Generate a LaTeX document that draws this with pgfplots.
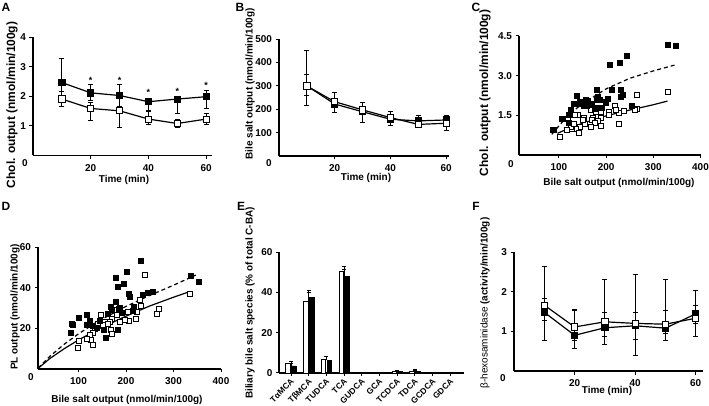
\documentclass[border=0pt]{standalone}
\usepackage{fontspec}
\setmainfont{Liberation Sans}
\usepackage{pgfplots}
\pgfplotsset{compat=1.18}
\newcommand\lab{\fontsize{10}{12}\selectfont\bfseries}
\newcommand\labS{\fontsize{8.4}{10}\selectfont\bfseries}
\newcommand\labL{\fontsize{12}{14}\selectfont\bfseries}
\pgfplotsset{
 pr/.style={
  scale only axis, anchor=south west,
  axis x line=bottom, axis y line=left,
  axis line style={-, line width=1.1bp},
  every outer x axis line/.append style={-},
  every outer y axis line/.append style={-},
  every tick/.style={black, line width=1bp},
  tick align=outside, major tick length=3.5bp,
  ticklabel style={font=\lab},
  xticklabel style={yshift=-2bp},
  /pgf/number format/assume math mode=true,
  clip=false,
 },
 blk/.style={draw=black, line width=1.2bp, mark=square*, mark size=3.1bp,
   mark options={solid, fill=black, draw=black, line width=0.8bp},
   error bars/.cd, y dir=both, y explicit,
   error bar style={line width=0.9bp, black, solid},
   error mark options={rotate=90, mark size=2.5bp, line width=0.9bp, black}},
 wht/.style={draw=black, line width=1.2bp, mark=square*, mark size=3.1bp,
   mark options={solid, fill=white, draw=black, line width=0.9bp},
   error bars/.cd, y dir=both, y explicit,
   error bar style={line width=0.9bp, black, solid},
   error mark options={rotate=90, mark size=2.5bp, line width=0.9bp, black}},
 sb/.style={only marks, mark=square*, mark size=2.5bp,
   mark options={fill=black, draw=black, line width=0.6bp}},
 sw/.style={only marks, mark=square*, mark size=2.5bp,
   mark options={fill=white, draw=black, line width=0.8bp}},
}
\begin{document}
\begin{tikzpicture}
\path[use as bounding box] (0bp,0bp) rectangle (709bp,406bp);

% ---------- A ----------
\begin{axis}[pr, at={(33bp,250.7bp)}, width=179bp, height=117.8bp,
  xmin=0, xmax=62, ymin=0, ymax=4, xtick={20,40,60}, ytick={1,2,3,4}]
\addplot[blk] coordinates {
 (10,2.47) += (0,0.82) -= (0,0.82)
 (20,2.12) += (0,0.27) -= (0,0.25)
 (30,2.03) += (0,0.38) -= (0,0.38)
 (40,1.82) += (0,0.10) -= (0,0.30)
 (50,1.91) += (0,0.08) -= (0,0.49)
 (60,1.99) += (0,0.21) -= (0,0.40)};
\addplot[wht] coordinates {
 (10,1.91) += (0,0.26) -= (0,0.26)
 (20,1.59) += (0,0.20) -= (0,0.40)
 (30,1.51) += (0,0.15) -= (0,0.56)
 (40,1.23) += (0,0.25) -= (0,0.17)
 (50,1.08) += (0,0.13) -= (0,0.13)
 (60,1.23) += (0,0.20) -= (0,0.17)};
\foreach \xx/\yy in {20/2.44,30/2.44,40/2.04,50/2.06,60/2.27}{
  \edef\tmp{\noexpand\node[anchor=base, font=\noexpand\fontsize{9}{10}\noexpand\selectfont\noexpand\bfseries, inner sep=0pt] at (axis cs:\xx,\yy) {*};}\tmp}
\end{axis}

% ---------- B ----------
\begin{axis}[pr, at={(279bp,250bp)}, width=170bp, height=117bp,
  xmin=0, xmax=61, ymin=0, ymax=500, xtick={20,40,60}, ytick={100,200,300,400,500},
  yticklabels={100,200,300,400,500}]
\addplot[blk] coordinates {
 (10,300) += (0,50) -= (0,42)
 (20,222) += (0,20) -= (0,37)
 (30,189) += (0,15) -= (0,45)
 (40,157) += (0,10) -= (0,25)
 (50,150) += (0,25) -= (0,10)
 (60,154) += (0,21) -= (0,10)};
\addplot[wht] coordinates {
 (10,299) += (0,150) -= (0,84)
 (20,232) += (0,40) -= (0,15)
 (30,197) += (0,32) -= (0,15)
 (40,164) += (0,28) -= (0,10)
 (50,135) += (0,10) -= (0,12)
 (60,140) += (0,10) -= (0,29)};
\end{axis}

% ---------- C ----------
\begin{axis}[pr, at={(519bp,251bp)}, width=181.5bp, height=119bp,
  xmin=15.5, xmax=400, ymin=0, ymax=4.5, xtick={100,200,300,400},
  xticklabels={100,200,300,400}, ytick={1.5,3,4.5}, yticklabels={1.5,3.0,4.5}]
\addplot[sw] table {
330 2.39
265 2.26
219 1.85
266 1.75
260 1.70
237 1.66
228 1.60
220 1.70
206 1.63
205 1.51
190 1.63
199 1.97
228 1.17
167 1.70
188 1.42
173 1.41
169 1.32
182 1.29
176 1.20
189 1.11
167 1.07
152 1.42
140 1.51
156 1.16
145 1.07
151 1.32
134 1.07
136 0.98
142 0.84
128 0.98
125 1.07
120 1.38
106 1.35
102 0.67
116 0.94
131 1.17
178 1.63
134 1.51
};
\addplot[sb] table {
331 4.18
347 4.12
244 3.74
228 3.48
207 3.42
231 2.48
212 2.48
180 2.45
235 2.29
231 2.20
138 2.23
182 2.20
180 2.08
186 2.10
156 2.08
162 2.04
149 1.95
131 1.95
204 2.14
200 2.01
160 1.85
152 1.85
182 1.80
190 1.80
125 1.70
120 1.51
254 1.85
121 1.23
109 1.36
90 0.97
87 0.94
144 1.92
170 1.95
176 1.76
145 2.00
};
\addplot[black, line width=1.2bp, dash pattern=on 4bp off 3bp] coordinates {
 (85,0.78) (100,1.1) (120,1.5) (140,1.8) (160,2.05) (200,2.5) (250,2.9) (300,3.18) (345,3.40)};
\addplot[black, line width=1.2bp] coordinates {
 (97,0.82) (120,1.0) (150,1.2) (200,1.48) (250,1.7) (300,1.9) (330,2.04)};
\end{axis}

% ---------- D ----------
\begin{axis}[pr, at={(38bp,37bp)}, width=183bp, height=122bp,
  xmin=14.7, xmax=400, ymin=0, ymax=60, xtick={100,200,300,400},
  xticklabels={100,200,300,400}, ytick={20,40,60}, yticklabels={20,40,60}]
\addplot[sw] table {
239 46.4
335 36.8
269 29.8
266 27.0
229 33.8
232 31.0
222 28.1
220 24.4
206 23.7
197 24.0
187 23.2
203 28.1
188 30.2
180 26.5
170 24.8
166 23.2
169 19.1
171 17.2
155 23.2
148 26.5
152 21.6
141 22.1
134 19.5
131 17.8
124 17.0
127 14.2
131 11.8
117 15.0
101 13.7
99 10.4
180 28.9
162 22.4
};
\addplot[sb] table {
232 53.1
202 47.7
178 44.9
196 42.0
182 40.3
337 45.6
353 42.8
205 37.1
208 35.4
235 36.6
246 37.4
256 37.9
178 33.0
168 30.5
171 28.9
185 29.8
192 27.6
162 27.0
118 26.5
100 25.3
124 23.5
145 23.7
85 22.4
89 21.6
117 21.6
131 21.1
138 20.4
153 19.1
183 19.1
84 17.8
157 15.5
216 30.5
214 28.6
};
\addplot[black, line width=1.2bp, dash pattern=on 4bp off 3bp] coordinates {
 (14.7,0.4) (40,6.3) (70,12.2) (100,17.3) (140,23.3) (200,30.8) (250,36.2) (300,41.2) (347,46.2)};
\addplot[black, line width=1.2bp] coordinates {
 (14.7,0.3) (40,5.2) (70,10.0) (100,14.3) (140,19.4) (200,26.0) (250,31.0) (300,35.3) (332,37.9)};
\end{axis}

% ---------- E ----------
\begin{axis}[pr, at={(279bp,33bp)}, width=185bp, height=121bp,
  xmin=-0.68, xmax=9.77, ymin=0, ymax=60, ytick={0,20,40,60}, yticklabels={0,20,40,60},
  xtick={0,...,9}, major tick length=3bp,
  xticklabels={TαMCA,TβMCA,TUDCA,TCA,GUDCA,GCA,TCDCA,TDCA,GCDCA,GDCA},
  xticklabel style={rotate=45, anchor=north east, inner sep=0.5bp, yshift=1bp, font=\labS}]
\addplot[ybar, bar width=4.6bp, bar shift=-2.9bp, fill=white, draw=black, line width=0.8bp,
  error bars/.cd, y dir=plus, y explicit, error bar style={line width=0.9bp, black},
  error mark options={rotate=90, mark size=2bp, line width=0.9bp, black}] coordinates {
 (0,4.6) +- (0,1.2) (1,35.5) +- (0,4.3) (2,6.6) +- (0,1.8) (3,50.4) +- (0,2.2)
 (4,0.2) +- (0,0.2) (5,0.15) +- (0,0.1) (6,1.0) +- (0,0.5) (7,0.9) +- (0,0.8)
 (8,0.3) +- (0,0.2) (9,0.2) +- (0,0.1)};
\addplot[ybar, bar width=4.6bp, bar shift=2.9bp, fill=black, draw=black, line width=0.8bp,
  error bars/.cd, y dir=plus, y explicit, error bar style={line width=0.9bp, black},
  error mark options={rotate=90, mark size=2bp, line width=0.9bp, black}] coordinates {
 (0,3.5) +- (0,1.1) (1,37.4) +- (0,3.4) (2,6.3) +- (0,1.8) (3,48.1) +- (0,3.1)
 (4,0.2) +- (0,0.2) (5,0.15) +- (0,0.1) (6,0.8) +- (0,0.6) (7,0.9) +- (0,0.6)
 (8,0.3) +- (0,0.1) (9,0.2) +- (0,0.1)};
\end{axis}

% ---------- F ----------
\begin{axis}[pr, at={(514bp,35bp)}, width=189bp, height=119bp,
  xmin=0, xmax=62.4, ymin=0, ymax=3, xtick={20,40,60}, ytick={1,2,3}]
\addplot[blk] coordinates {
 (10,1.48) += (0,0.36) -= (0,0.71)
 (20,0.90) += (0,0.62) -= (0,0.34)
 (30,1.09) += (0,0.38) -= (0,0.42)
 (40,1.14) += (0,0.34) -= (0,0.74)
 (50,1.08) += (0,0.44) -= (0,0.30)
 (60,1.44) += (0,0.58) -= (0,0.56)};
\addplot[wht] coordinates {
 (10,1.66) += (0,0.97) -= (0,0.39)
 (20,1.11) += (0,0.45) -= (0,0.33)
 (30,1.24) += (0,1.08) -= (0,0.36)
 (40,1.20) += (0,1.24) -= (0,0.40)
 (50,1.18) += (0,1.14) -= (0,0.23)
 (60,1.33) += (0,0.32) -= (0,0.13)};
\end{axis}

% ---------- labels ----------
\begin{scope}[every node/.style={inner sep=0pt}]
\node[font=\labL] at (6bp,399bp) {A};
\node[font=\labL] at (240bp,399bp) {B};
\node[font=\labL] at (476bp,399bp) {C};
\node[font=\labL] at (6bp,200bp) {D};
\node[font=\labL] at (241bp,200bp) {E};
\node[font=\labL] at (476bp,200bp) {F};

\node[font=\lab] at (25bp,243bp) {0};
\node[font=\lab] at (269bp,243bp) {0};
\node[font=\lab] at (511bp,242bp) {0};
\node[font=\lab] at (31bp,29bp) {0};
\node[font=\lab] at (503bp,28bp) {0};

\node[font=\lab] at (124bp,226bp) {Time (min)};
\node[font=\lab] at (366bp,228bp) {Time (min)};
\node[font=\lab] at (619bp,223bp) {Bile salt output (nmol/min/100g)};
\node[font=\lab] at (127bp,6bp) {Bile salt output (nmol/min/100g)};
\node[font=\lab] at (607bp,15bp) {Time (min)};

\node[font=\labL, rotate=90] at (12bp,301bp) {Chol. output (nmol/min/100g)};
\node[font=\lab, rotate=90] at (250bp,322bp) {Bile salt output (nmol/min/100g)};
\node[font=\labL, rotate=90] at (485bp,313bp) {Chol. output (nmol/min/100g)};
\node[font=\lab, rotate=90] at (15bp,99bp) {PL output (nmol/min/100g)};
\node[font=\lab, rotate=90] at (250bp,103bp) {Biliary bile salt species (\% of total C-BA)};
\node[font=\lab, rotate=90] at (485bp,103bp) {{\mdseries β-hexosaminidase} (activity/min/100g)};
\end{scope}
\end{tikzpicture}
\end{document}
